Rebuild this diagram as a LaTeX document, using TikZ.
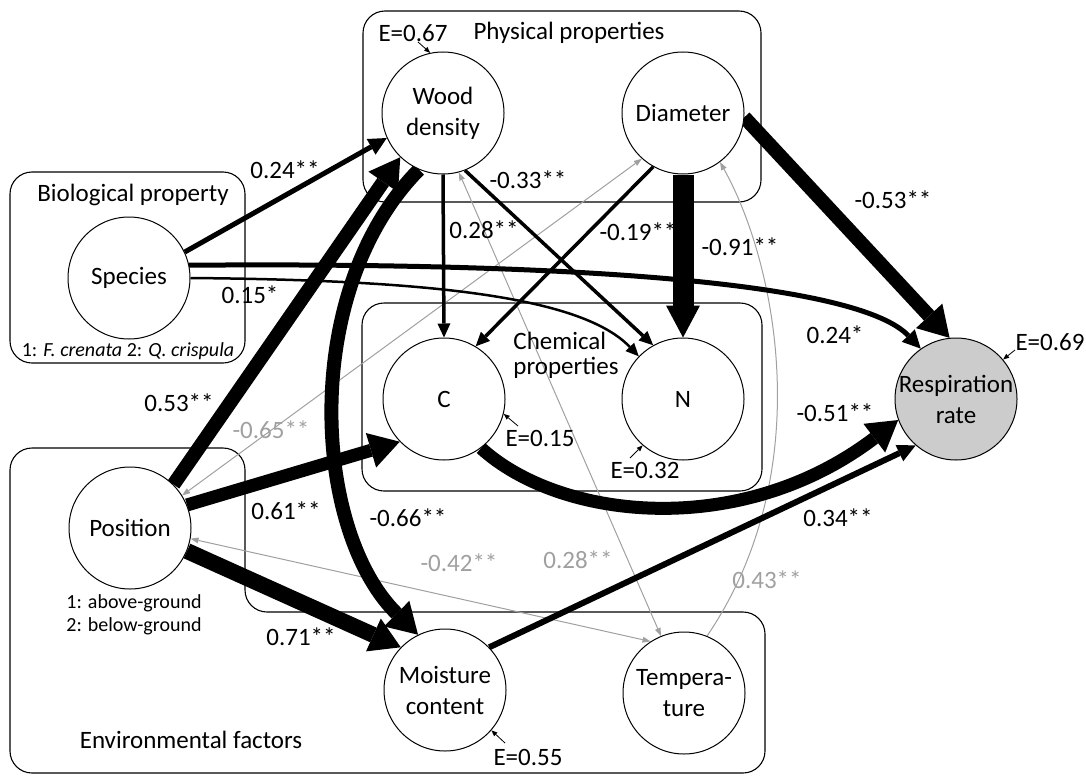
\documentclass[tikz,border=0pt]{standalone}
\usepackage{fontspec}
\setmainfont{Carlito}
\usetikzlibrary{arrows.meta}
\definecolor{lgray}{RGB}{160,160,160}
\definecolor{rfill}{RGB}{204,204,204}
\pgfdeclarelayer{boxes}
\pgfdeclarelayer{edges}
\pgfsetlayers{boxes,edges,main}
\begin{document}
\begin{tikzpicture}[x=1pt,y=-1pt,
  var/.style={circle, draw, line width=1pt, fill=white, minimum size=122pt, inner sep=0pt, align=center, font=\fontsize{25}{31}\selectfont},
  grp/.style={draw, line width=1.1pt, rounded corners=22pt},
  lbl/.style={font=\fontsize{25}{30}\selectfont, inner sep=0pt},
  glbl/.style={lbl, text=lgray},
  small/.style={font=\fontsize{20}{23}\selectfont, inner sep=0pt},
  pth0/.style={line width=2.5pt, -{Triangle[length=13pt,width=12pt,line width=0pt]}},
  pth1/.style={line width=3.5pt, -{Triangle[length=14pt,width=13pt,line width=0pt]}},
  pth2/.style={line width=5pt, -{Triangle[length=18pt,width=18pt,line width=0pt]}},
  pth3/.style={line width=14pt, -{Triangle[length=30pt,width=36pt,line width=0pt]}},
  pth4/.style={line width=21pt, -{Triangle[length=32pt,width=34pt,line width=0pt]}},
  cor/.style={draw=lgray, line width=1pt, {Triangle[length=8pt,width=6pt,line width=0pt]}-{Triangle[length=8pt,width=6pt,line width=0pt]}},
  one/.style={draw=lgray, line width=1pt, -{Triangle[length=8pt,width=6pt,line width=0pt]}},
  eh/.style={line width=0.8pt, -{Triangle[length=6pt,width=5pt,line width=0pt]}}
]
\useasboundingbox (0,0) rectangle (1086,776);

% group boxes
\begin{pgfonlayer}{boxes}
\draw[grp] (10,172) rectangle (245,363);
\draw[grp] (363,11) rectangle (761,202);
\draw[grp] (362,303) rectangle (762,491);
\draw[grp] (10,448) -- (245,448) -- (245,612) -- (765,612) -- (765,773) -- (10,773) -- cycle;
\end{pgfonlayer}

% variables
\node[var] (sp) at (129,278) {Species};
\node[var] (wd) at (443,113) {Wood\\density};
\node[var] (dia) at (683,113) {Diameter};
\node[var] (c) at (444,399) {C};
\node[var] (n) at (683,399) {N};
\node[var, fill=rfill] (resp) at (956,399) {\makebox[100pt]{Respiration}\\rate};
\node[var] (pos) at (130,528) {Position};
\node[var] (moist) at (445,690) {Moisture\\content};
\node[var] (temp) at (684,693) {Tempera-\\ture};

% group texts
\node[lbl] (tbio) at (133,195) {Biological property};
\node[small] (tspec) at (128,351) {1: \textit{F. crenata} 2: \textit{Q. crispula}};
\node[lbl] (tphys) at (569,33) {Physical properties};
\node[lbl, align=left, font=\fontsize{25}{25}\selectfont] (tchem) at (566,355) {Chemical\\properties};
\node[small, align=left] (tposn) at (134,615) {1: above-ground\\2: below-ground};
\node[lbl] (tenv) at (191,740) {Environmental factors};

% error terms
\node[lbl] (e1) at (413,33) {E=0.67};
\node[lbl] (e2) at (1050,342) {E=0.69};
\node[lbl] (e3) at (540,438) {E=0.15};
\node[lbl] (e4) at (645,470) {E=0.32};
\node[lbl] (e5) at (528,757) {E=0.55};
\coordinate (e1s) at (418,42);
\coordinate (e2s) at (1015,350);
\coordinate (e3s) at (518,426);
\coordinate (e4s) at (630,458);
\coordinate (e5s) at (505,743);
\draw[eh] (e1s) -- (wd.102);
\draw[eh] (e2s) -- (resp.40);
\draw[eh] (e3s) -- (c.-14);
\draw[eh] (e4s) -- (n.229);
\draw[eh] (e5s) -- (moist.-41);

% edge labels
\node[lbl] (l1) at (285,170) {0.24**};
\node[lbl] (l2) at (250,295) {0.15*};
\node[lbl] (l3) at (179,403) {0.53**};
\node[glbl] (l4) at (271,430) {-0.65**};
\node[lbl] (l5) at (286,511) {0.61**};
\node[lbl] (l6) at (408,518) {-0.66**};
\node[lbl] (l7) at (301,637) {0.71**};
\node[glbl] (l8) at (459,563) {-0.42**};
\node[glbl] (l9) at (578,560) {0.28**};
\node[glbl] (l10) at (767,580) {0.43**};
\node[lbl] (l11) at (838,518) {0.34**};
\node[lbl] (l12) at (835,413) {-0.51**};
\node[lbl] (l13) at (835,335) {0.24*};
\node[lbl] (l14) at (893,200) {-0.53**};
\node[lbl] (l15) at (740,247) {-0.91**};
\node[lbl] (l16) at (484,230) {0.28**};
\node[lbl] (l17) at (528,180) {-0.33**};

\begin{pgfonlayer}{edges}
\node[lbl] (l18) at (638,232) {-0.19**};
% correlations (gray)
\draw[cor] (pos.32) -- (dia.228);
\draw[cor] (pos.-10) -- (temp.123);
\draw[cor] (wd.-75) -- (temp.112);
\draw[one] (temp.68) .. controls (820,470) and (775,260) .. (dia.-53);
% paths (black)
\draw[pth2] (sp.25) -- (wd.204);
\draw[pth2] (sp.12) .. controls (600,262) and (860,285) .. (resp.125);
\draw[pth0] (sp.0) .. controls (420,280) and (580,295) .. (n.136);
\draw[pth1] (wd.270) -- (c.90);
\draw[pth1] (wd.-69) -- (n.119);
\draw[pth1] (dia.241) -- (c.59);
\draw[pth4] (dia.270) -- (n.90);
\draw[pth3] (dia.-4) -- (resp.96);
\draw[pth3] (wd.247) .. controls (300,290) and (312,530) .. (moist.116);
\draw[pth3] (pos.45) -- (wd.226);
\draw[pth3, line width=13pt] (pos.22) -- (c.224);
\draw[pth3, line width=16pt] (pos.-22) -- (moist.136);
\draw[pth3, line width=13pt] (c.-53) .. controls (560,520) and (740,540) .. (resp.200);
\draw[pth2, line width=6pt] (moist.44) -- (resp.229);
\end{pgfonlayer}
\end{tikzpicture}
\end{document}
